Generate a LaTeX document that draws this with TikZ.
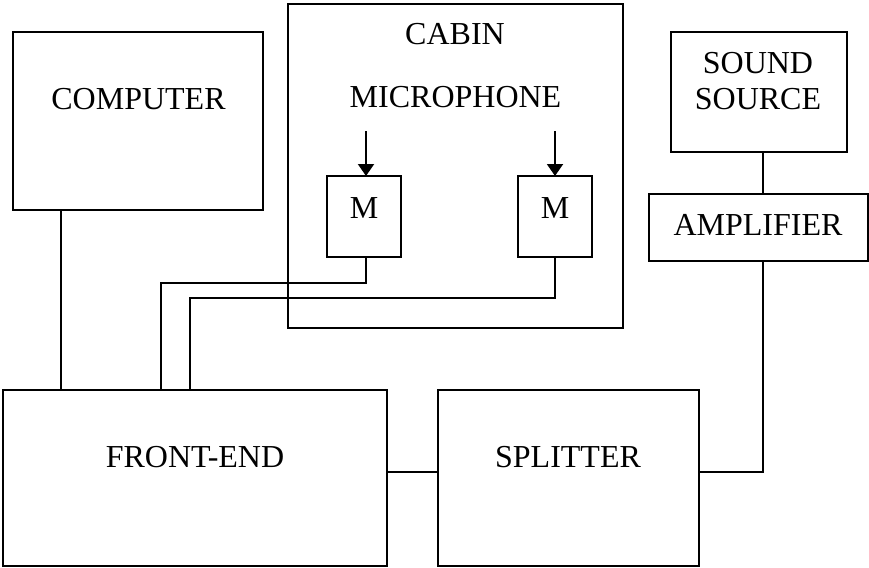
\documentclass[tikz,border=0pt]{standalone}
\usepackage{fontspec}
\setmainfont{Liberation Serif}
\usetikzlibrary{arrows.meta}
\begin{document}
\begin{tikzpicture}[x=1pt,y=-1pt,
  box/.style={draw,line width=2pt,rectangle,inner sep=0pt,outer sep=0pt},
  wire/.style={line width=1.7pt},
  txt/.style={anchor=base,inner sep=0pt,font=\fontsize{32}{36}\selectfont},
  mic/.style={line width=2pt,-{Triangle[width=16pt,length=12pt]}}]
\useasboundingbox (0,0) rectangle (869,567);
% boxes
\node[box,minimum width=250pt,minimum height=178pt] (comp) at (138,121) {};
\node[box,minimum width=335pt,minimum height=324pt] (cabin) at (455.5,166) {};
\node[box,minimum width=74pt,minimum height=81pt] (m1) at (364,216.5) {};
\node[box,minimum width=74pt,minimum height=81pt] (m2) at (555,216.5) {};
\node[box,minimum width=176pt,minimum height=120pt] (src) at (759,92) {};
\node[box,minimum width=219pt,minimum height=67pt] (amp) at (758.5,227.5) {};
\node[box,minimum width=384pt,minimum height=176pt] (fe) at (195,478) {};
\node[box,minimum width=261pt,minimum height=176pt] (spl) at (568.5,478) {};
% texts
\node[txt] (tcomp) at (138.5,110) {COMPUTER};
\node[txt] (tcabin) at (455,45) {CABIN};
\node[txt] (tmic) at (455.5,107) {MICROPHONE};
\node[txt] (tm1) at (364,218) {M};
\node[txt] (tm2) at (555,218) {M};
\node[txt] (tsrc1) at (758,74) {SOUND};
\node[txt] (tsrc2) at (758,110) {SOURCE};
\node[txt] (tamp) at (758,235) {AMPLIFIER};
\node[txt] (tfe) at (195,467) {FRONT-END};
\node[txt] (tspl) at (568,467) {SPLITTER};
% arrows into microphones
\draw[mic] ([xshift=2pt,yshift=45pt]m1.north) -- ([xshift=2pt]m1.north);
\draw[mic] ([yshift=45pt]m2.north) -- (m2.north);
% wires
\coordinate (j1) at (161,283);
\coordinate (j2) at (190,298);
\coordinate (w) at (763,0);
\draw[wire] ([xshift=48pt]comp.south west) -- ([xshift=48pt]comp.south west |- fe.north);
\draw[wire] ([xshift=2pt]m1.south) |- (j1) -- (j1 |- fe.north);
\draw[wire] (m2.south) |- (j2) -- (j2 |- fe.north);
\draw[wire] ([yshift=6pt]fe.east) -- ([yshift=6pt]spl.west);
\draw[wire] (src.south -| w) -- (amp.north -| w);
\draw[wire] ([yshift=6pt]spl.east) -| (amp.south -| w);
\end{tikzpicture}
\end{document}
